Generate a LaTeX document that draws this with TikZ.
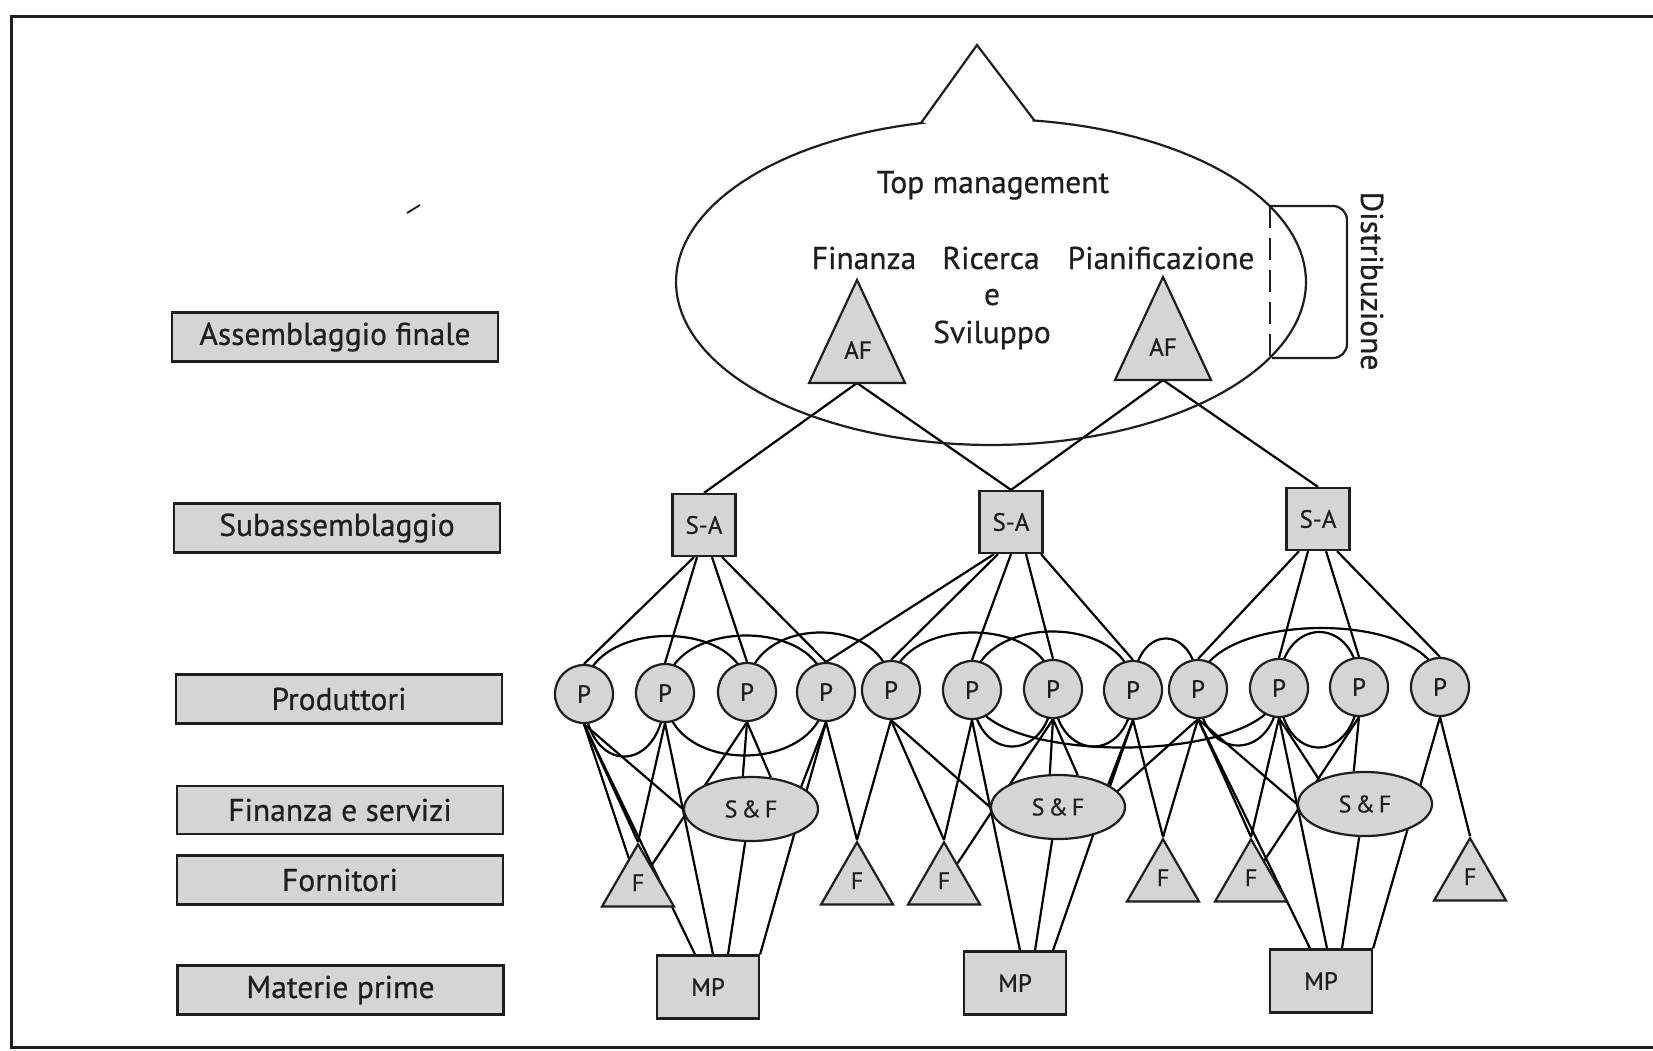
\documentclass[tikz,border=0pt]{standalone}
\usepackage{fontspec}
\setmainfont{PT Sans}[FakeBold=0.6]
\setsansfont{PT Sans}[FakeBold=0.6]
\usetikzlibrary{calc,backgrounds,shapes.geometric}
\pgfdeclarelayer{paper}
\pgfsetlayers{paper,background,main}
\definecolor{shade}{HTML}{D5D5D5}
\definecolor{ink}{HTML}{1E1E1E}

\begin{document}
\begin{tikzpicture}[x=1pt,y=-1pt,color=ink,
  every path/.style={line width=2.2pt},
  lvl/.style={draw,fill=shade,minimum width=326pt,minimum height=49pt,inner sep=0pt,
    font=\fontsize{31.5}{33}\selectfont},
  prod/.style={circle,draw,fill=shade,minimum size=58pt,inner sep=0pt,
    font=\fontsize{25}{27}\selectfont},
  sub/.style={draw,fill=shade,minimum width=63pt,minimum height=62pt,inner sep=0pt,
    font=\fontsize{25}{27}\selectfont},
  raw/.style={draw,fill=shade,minimum width=102pt,minimum height=63pt,inner sep=0pt,
    font=\fontsize{25}{27}\selectfont},
  serv/.style={ellipse,draw,fill=shade,minimum width=134pt,minimum height=64pt,inner sep=0pt,
    font=\fontsize{24}{26}\selectfont},
  supp/.style={regular polygon,regular polygon sides=3,draw,fill=shade,minimum size=83pt,
    inner sep=0pt,anchor=corner 1,font=\fontsize{24}{26}\selectfont},
  tm/.style={font=\fontsize{31.5}{33}\selectfont,inner sep=0pt,anchor=base},
  small/.style={font=\fontsize{25}{27}\selectfont,inner sep=0pt},
]
\useasboundingbox (0,0) rectangle (1653,1050);
\begin{pgfonlayer}{paper}
  \fill[white] (0,0) rectangle (1653,1050);
\end{pgfonlayer}

% page frame
\draw[line width=3pt] (1653,16) -- (11,16) -- (11,1047) -- (1653,1047);
\draw[line width=1.8pt] (407,213) -- (420,205);

% levels
\node[lvl] (lv1) at (335,337) {Assemblaggio finale};
\node[lvl] (lv2) at (337,528) {Subassemblaggio};
\node[lvl] (lv3) at (339,699) {Produttori};
\node[lvl,minimum height=48pt] (lv4) at (340,810) {Finanza e servizi};
\node[lvl] (lv5) at (340,880) {Fornitori};
\node[lvl] (lv6) at (340.5,990) {Materie prime};

% top management bubble
\draw (921,123) -- (977,45) -- (1034,120)
  -- plot[domain=277.8:617.2,samples=140] ({991+315*cos(\x)},{282+163*sin(\x)}) -- cycle;
\node[tm] (top) at (993,193) {Top management};
\node[tm] (fin) at (864,269) {Finanza};
\node[tm] (ric) at (991,269) {Ricerca};
\node[tm] (ric2) at (992,305) {e};
\node[tm] (ric3) at (992,343) {Sviluppo};
\node[tm] (pia) at (1161,269) {Pianificazione};

% distribution bracket
\draw[dash pattern=on 22pt off 10pt] (1270,206) -- (1270,358);
\draw[rounded corners=14pt] (1270,206) -- (1347,206) -- (1347,358) -- (1272,358);
\node[font=\fontsize{31.5}{33}\selectfont,inner sep=0pt,rotate=-90] (dist) at (1372,281) {Distribuzione};

% final assembly triangles
\draw[fill=shade] (857,280) -- (809,383) -- (905,383) -- cycle;
\coordinate (afl) at (857,383);
\node[small] (afltxt) at (858,350) {AF};
\draw[fill=shade] (1163,277) -- (1115,380) -- (1211,380) -- cycle;
\coordinate (afr) at (1163,380);
\node[small] (afrtxt) at (1163,347) {AF};

% subassembly
\node[sub] (S1) at (704,525) {S-A};
\node[sub] (S2) at (1011,522) {S-A};
\node[sub] (S3) at (1318,519) {S-A};

% producers
\foreach \n/\x/\y in {1/584/694,2/665/693,3/747/692,4/826/692,5/891/690,6/972/690,
                      7/1053/689,8/1133/690,9/1198/689,10/1279/688,11/1359/687,12/1440/687}
  \node[prod] (P\n) at (\x,\y) {P};

% services and finance
\node[serv] (SF1) at (751,809) {S\,\&\,F};
\node[serv] (SF2) at (1058,807) {S\,\&\,F};
\node[serv] (SF3) at (1365,804) {S\,\&\,F};

% suppliers (letter lifted a little inside the triangle)
\node[supp] (F1) at (638,842) {\raisebox{6pt}{F}};
\node[supp] (F2) at (857,840) {\raisebox{6pt}{F}};
\node[supp] (F3) at (944,840) {\raisebox{6pt}{F}};
\node[supp] (F4) at (1163,837) {\raisebox{6pt}{F}};
\node[supp] (F5) at (1251,837) {\raisebox{6pt}{F}};
\node[supp] (F6) at (1470,836) {\raisebox{6pt}{F}};

% raw materials
\node[raw] (M1) at (708,987) {MP};
\node[raw] (M2) at (1015,983) {MP};
\node[raw] (M3) at (1321,981) {MP};

\begin{pgfonlayer}{background}
  % final assembly to subassembly
  \draw (afl) -- (S1.north);
  \draw (afl) -- (S2.north);
  \draw (afr) -- (S2.north);
  \draw (afr) -- (S3.north);
  % subassembly to producers
  \foreach \s/\dx/\p in {S1/-10/P1,S1/-7/P2,S1/8/P3,S1/18/P4,
                         S2/-17/P4,S2/-13/P5,S2/0/P6,S2/15/P7,S2/30/P8,
                         S3/-19/P9,S3/-10/P10,S3/8/P11,S3/19/P12}
    \draw ($(\s.south)+(\dx,0)$) -- (\p.north);
  % links among producers, above the row
  \foreach \a/\b/\h in {P1/P3/76,P2/P4/76,P3/P5/78,P5/P7/76,P6/P8/78,
                        P8/P9/68,P9/P12/80,P10/P11/74}
    \draw (\a.center) .. controls +(0,-\h) and +(0,-\h) .. (\b.center);
  % links among producers, below the row
  \foreach \a/\b/\h in {P1/P2/84,P2/P4/84,P6/P7/76,P7/P8/76,P6/P10/78,
                        P9/P10/76,P10/P11/80}
    \draw (\a.center) .. controls +(0,\h) and +(0,\h) .. (\b.center);
  % first cluster
  \draw (P1.south) -- (F1.corner 1);
  \draw (P1.south) -- (F1.center);
  \draw (P1.south) -- ($(M1.north)+(-13,0)$);
  \draw (P1.south) -- (SF1.west);
  \draw (P2.south) -- (F1.corner 1);
  \draw (P2.south) -- ($(M1.north)+(5,0)$);
  \draw (P3.south) -- (SF1.104);
  \draw (P3.south) -- (SF1.58);
  \draw (P3.south) -- (F1.center);
  \draw (P4.south) -- (SF1.24);
  \draw (P4.south) -- (M1.north east);
  \draw (P4.south) -- (F2.corner 1);
  \draw (SF1.-100) -- ($(M1.north)+(20,0)$);
  % second cluster
  \draw (P5.south) -- (F2.corner 1);
  \draw (P5.south) -- (F3.corner 1);
  \draw (P5.south) -- (SF2.west);
  \draw (P6.south) -- (F3.corner 1);
  \draw (P6.south) -- ($(M2.north)+(5,0)$);
  \draw (P7.south) -- (SF2.104);
  \draw (P7.south) -- (SF2.58);
  \draw (P7.south) -- (F3.center);
  \draw (P8.south) -- (SF2.24);
  \draw (P8.south) -- ($(M2.north)+(38,0)$);
  \draw (P8.south) -- (F4.corner 1);
  \draw (P9.south) -- (SF2.15);
  \draw (SF2.-100) -- ($(M2.north)+(20,0)$);
  % third cluster
  \draw (P9.south) -- (F4.corner 1);
  \draw (P9.south) -- (F5.corner 1);
  \draw (P9.south) -- ($(M3.north)+(-11,0)$);
  \draw (P9.south) -- (SF3.west);
  \draw (P10.south) -- (F5.corner 1);
  \draw (P10.south) -- ($(M3.north)+(6,0)$);
  \draw (P10.south) -- (SF3.152);
  \draw (P11.south) -- (SF3.109);
  \draw (P11.south) -- (F5.center);
  \draw (P12.south) -- (M3.north east);
  \draw (P12.south) -- (F6.corner 1);
  \draw (SF3.-100) -- ($(M3.north)+(21,0)$);
\end{pgfonlayer}
\end{tikzpicture}
\end{document}
